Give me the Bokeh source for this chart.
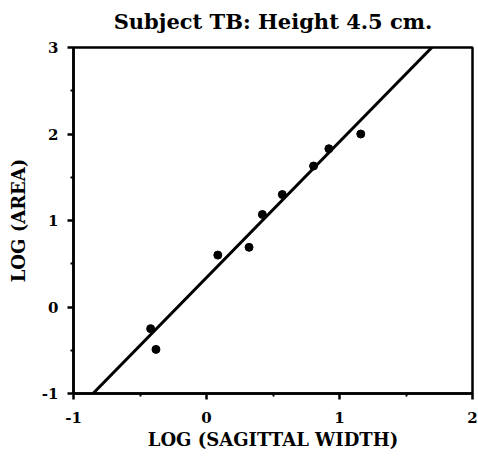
from bokeh.plotting import figure
from bokeh.embed import file_html
from bokeh.resources import INLINE
from bokeh.models import Range1d, FixedTicker, Title

# Data
log_width = [-0.42, -0.38, 0.085, 0.32, 0.42, 0.57, 0.805, 0.92, 1.16]
log_area = [-0.25, -0.49, 0.60, 0.69, 1.07, 1.30, 1.63, 1.83, 2.00]

# Fitted regression line  log(area) = intercept + slope * log(width)
slope = 1.57
intercept = 0.34

x_ticks = [-1, 0, 1, 2]
y_ticks = [-1, 0, 1, 2, 3]

title_text = "Subject TB: Height 4.5 cm."

FONT = "DejaVu Serif"

p = figure(width=478, height=456, output_backend="svg", toolbar_location=None,
           x_range=Range1d(-1, 2), y_range=Range1d(-1, 3),
           min_border_left=73, min_border_right=6, min_border_top=47, min_border_bottom=63)

p.title.text = title_text
p.title.align = "center"
p.title.text_font = FONT
p.title.text_font_style = "bold"
p.title.text_font_size = "21px"
p.title.text_color = "black"
p.title.standoff = 10

# Empty spacer between the title and the frame
p.add_layout(Title(text=" ", text_font_size="7px", standoff=0), "above")

p.grid.visible = False
p.outline_line_color = "black"
p.outline_line_width = 2.5
p.background_fill_color = "white"
p.border_fill_color = "white"

for ax, ticks in ((p.xaxis[0], x_ticks), (p.yaxis[0], y_ticks)):
    ax.ticker = FixedTicker(ticks=ticks, minor_ticks=[t + 0.5 for t in ticks[:-1]])
    ax.major_label_overrides = {t: str(t) for t in ticks}
    ax.axis_line_width = 2.5
    ax.major_tick_line_width = 2.5
    ax.minor_tick_line_width = 2
    ax.major_tick_out = 6
    ax.major_tick_in = 0
    ax.minor_tick_out = 3
    ax.minor_tick_in = 0
    ax.major_label_text_font = FONT
    ax.major_label_text_font_style = "bold"
    ax.major_label_text_font_size = "15px"
    ax.major_label_text_color = "black"
    ax.axis_label_text_font = FONT
    ax.axis_label_text_font_style = "bold"
    ax.axis_label_text_font_size = "18px"
    ax.axis_label_text_color = "black"

p.xaxis.axis_label = "LOG (SAGITTAL WIDTH)"
p.yaxis.axis_label = "LOG (AREA)"
p.xaxis.major_label_standoff = 12
p.yaxis.major_label_standoff = 9
p.xaxis.axis_label_standoff = 3
p.yaxis.axis_label_standoff = 10

# Regression line across the plotting frame
y_lo, y_hi = -1, 3
line_x = [(y_lo - intercept) / slope, (y_hi - intercept) / slope]
line_y = [intercept + slope * x for x in line_x]
p.line(line_x, line_y, line_color="black", line_width=3)

p.scatter(log_width, log_area, size=8, fill_color="black", line_color="black")

open("out.html", "w").write(file_html(p, INLINE))
